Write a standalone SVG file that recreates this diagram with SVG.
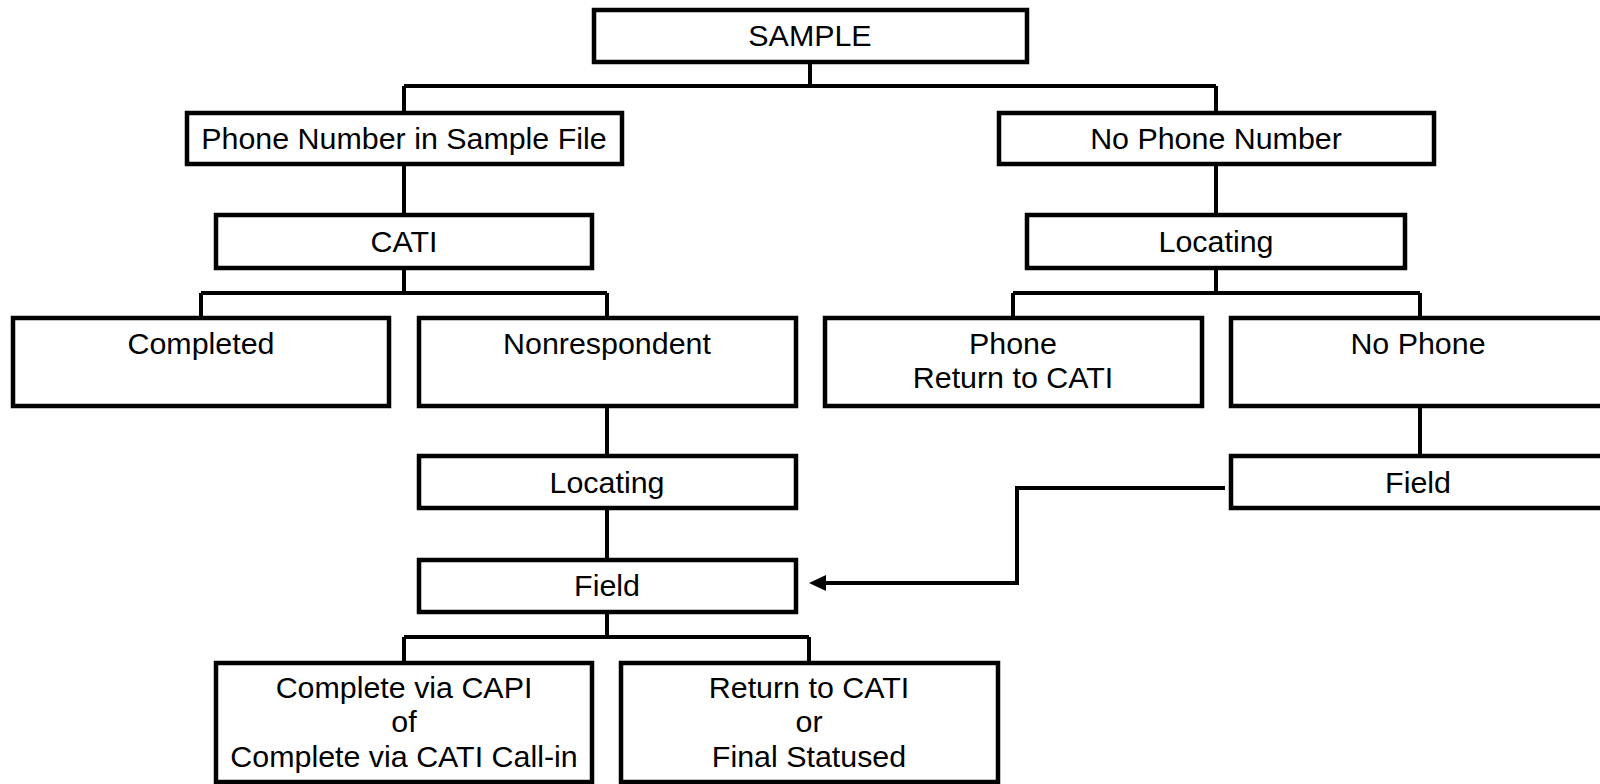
<svg xmlns="http://www.w3.org/2000/svg" width="1600" height="784" viewBox="0 0 1600 784">
<defs>
<style>
.box{fill:#fff;stroke:#000;stroke-width:4.5}
.c{fill:none;stroke:#000;stroke-width:4}
text{font-family:"Liberation Sans",Arial,sans-serif;font-size:30.4px;text-anchor:middle;fill:#000}
</style>
</defs>
<rect width="1600" height="784" fill="#fff"/>
<g id="connectors">
<path class="c" d="M810,62 V86 M404,86 H1216 M404,86 V113 M1216,86 V113"/>
<path class="c" d="M404,164 V215 M1216,164 V215"/>
<path class="c" d="M404,268 V293 M201,293 H607 M201,293 V318 M607,293 V318"/>
<path class="c" d="M1216,268 V293 M1013,293 H1420 M1013,293 V318 M1420,293 V318"/>
<path class="c" d="M607,406 V456 M607,508 V560"/>
<path class="c" d="M607,612 V637 M404,637 H809 M404,637 V663 M809,637 V663"/>
<path class="c" d="M1420,406 V456"/>
<path class="c" d="M1225,488 H1017 V583 H824"/>
<polygon points="809,583 826,575 826,591" fill="#000"/>
</g>
<g id="sample"><rect class="box" x="594" y="10" width="433" height="52"/><text x="810" y="45.5">SAMPLE</text></g>
<g id="phone-number"><rect class="box" x="187" y="113" width="435" height="51"/><text x="404" y="149">Phone Number in Sample File</text></g>
<g id="no-phone-number"><rect class="box" x="999" y="113" width="435" height="51"/><text x="1216" y="149">No Phone Number</text></g>
<g id="cati"><rect class="box" x="216" y="215" width="376" height="53"/><text x="404" y="251.5">CATI</text></g>
<g id="locating-right"><rect class="box" x="1027" y="215" width="378" height="53"/><text x="1216" y="251.5">Locating</text></g>
<g id="completed"><rect class="box" x="13" y="318" width="376" height="88"/><text x="201" y="354">Completed</text></g>
<g id="nonrespondent"><rect class="box" x="419" y="318" width="377" height="88"/><text x="607" y="354">Nonrespondent</text></g>
<g id="phone-return"><rect class="box" x="825" y="318" width="377" height="88"/><text x="1013" y="354">Phone</text><text x="1013" y="388">Return to CATI</text></g>
<g id="no-phone"><rect class="box" x="1231" y="318" width="379" height="88"/><text x="1418" y="354">No Phone</text></g>
<g id="locating-left"><rect class="box" x="419" y="456" width="377" height="52"/><text x="607" y="492.5">Locating</text></g>
<g id="field-right"><rect class="box" x="1231" y="456" width="379" height="52"/><text x="1418" y="492.5">Field</text></g>
<g id="field-left"><rect class="box" x="419" y="560" width="377" height="52"/><text x="607" y="596">Field</text></g>
<g id="complete-capi"><rect class="box" x="216" y="663" width="376" height="119"/><text x="404" y="698">Complete via CAPI</text><text x="404" y="732">of</text><text x="404" y="766.5">Complete via CATI Call-in</text></g>
<g id="return-cati"><rect class="box" x="621" y="663" width="377" height="119"/><text x="809" y="698">Return to CATI</text><text x="809" y="732">or</text><text x="809" y="766.5">Final Statused</text></g>
</svg>
